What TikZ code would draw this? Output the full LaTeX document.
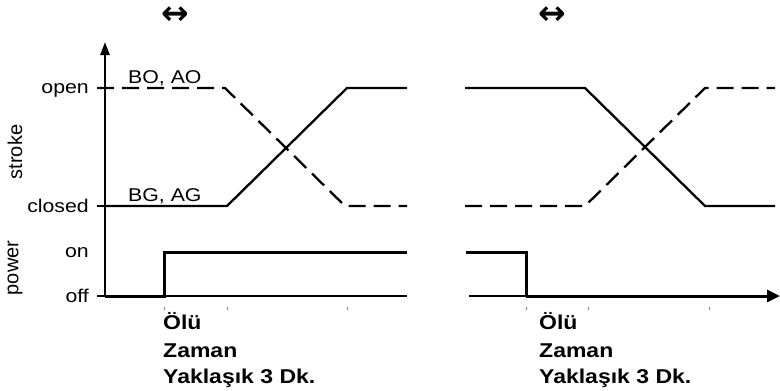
\documentclass[tikz,border=0pt]{standalone}
\usepackage{fontspec}
\setmainfont{Liberation Sans}[FakeStretch=1.15]
\newfontfamily\plainsans{Liberation Sans}
\newfontfamily\arrowfont{DejaVu Sans Bold}
\usetikzlibrary{arrows.meta}
\begin{document}
\begin{tikzpicture}[x=1pt,y=-1pt,
  lbl/.style={inner sep=0pt,font=\fontsize{18.5}{20}\selectfont},
  vlbl/.style={inner sep=0pt,rotate=90,font=\plainsans\fontsize{20}{22}\selectfont},
  note/.style={inner sep=0pt,anchor=base west,font=\fontsize{20}{24}\selectfont\bfseries},
  dbl/.style={inner sep=0pt,font=\arrowfont\fontsize{33}{34}\selectfont},
  curve/.style={line width=2.3pt,line join=miter},
  dcurve/.style={curve,dash pattern=on 17pt off 8pt},
  pwr/.style={line width=3pt,line join=miter},
  axisline/.style={line width=2.3pt},
  tickmark/.style={line width=0.9pt,gray},
]
\useasboundingbox (0,0) rectangle (780,391);
% key coordinates
\coordinate (ax0) at (105,296);
\coordinate (axtop) at (105,42);
\coordinate (tO) at (97,88);   \coordinate (aO) at (105,88);
\coordinate (tC) at (97,206);  \coordinate (aC) at (105,206);
\coordinate (tF) at (97,296);
% left stroke
\coordinate (L1) at (227,206); \coordinate (L2) at (347,88); \coordinate (L3) at (407,88);
\coordinate (D1) at (225,88);  \coordinate (D2) at (345,206); \coordinate (D3) at (407,206);
% right stroke
\coordinate (R0) at (465,88);  \coordinate (R1) at (585,88); \coordinate (R2) at (705,206); \coordinate (R3) at (775,206);
\coordinate (E0) at (465,206); \coordinate (E1) at (585,206); \coordinate (E2) at (705,88); \coordinate (E3) at (775,88);
% power
\coordinate (P1) at (164,296); \coordinate (P2) at (164,252); \coordinate (P3) at (407,252);
\coordinate (F3) at (407,296);
\coordinate (Q0) at (466,252); \coordinate (Q1) at (526,252); \coordinate (Q2) at (526,296);
\coordinate (G0) at (469,296); \coordinate (Gend) at (780,296);

% axis
\draw[axisline,-{Triangle[length=13pt,width=9pt]}] (ax0) -- (axtop);
\draw[axisline] (tO) -- (aO);
\draw[axisline] (tC) -- (aC);
\draw[axisline] (tF) -- (ax0);

% left panel
\draw[dcurve] (tO) -- (D1) -- (D2) -- (D3);
\draw[curve] (aC) -- (L1) -- (L2) -- (L3);
\draw[curve] (ax0) -- (F3);
\draw[pwr] (ax0) -- (P1) -- (P2) -- (P3);

% right panel
\draw[curve] (R0) -- (R1) -- (R2) -- (R3);
\draw[dcurve] (E0) -- (E1) -- (E2) -- (E3);
\draw[curve] (G0) -- (Q2);
\draw[pwr] (Q0) -- (Q1) -- (Q2);
\draw[pwr,-{Triangle[length=13pt,width=12pt]}] (Q2) -- (Gend);

% small ticks below
\foreach \x/\n in {164/a,227/b,347/c,526/d,588/e,709/f}{
  \coordinate (k\n1) at (\x,307); \coordinate (k\n2) at (\x,310);
  \draw[tickmark] (k\n1) -- (k\n2);
}

% labels
\node[lbl,anchor=base east] (lopen) at (89,93) {open};
\node[lbl,anchor=base east] (lclosed) at (89,212) {closed};
\node[lbl,anchor=base east] (lon) at (89,257) {on};
\node[lbl,anchor=base east] (loff) at (89,302) {off};
\node[lbl,anchor=base west] (lbo) at (128,83) {BO, AO};
\node[lbl,anchor=base west] (lbg) at (128,201) {BG, AG};
\node[vlbl] (lstroke) at (15,152) {stroke};
\node[vlbl] (lpower) at (15,268) {power};

\node[dbl] (arrL) at (175,16) {↔};
\node[dbl] (arrR) at (552,16) {↔};

\node[note] (n1a) at (163,329) {Ölü};
\node[note] (n1b) at (163,357) {Zaman};
\node[note] (n1c) at (163,383) {Yaklaşık 3 Dk.};
\node[note] (n2a) at (539,329) {Ölü};
\node[note] (n2b) at (539,357) {Zaman};
\node[note] (n2c) at (539,383) {Yaklaşık 3 Dk.};
\end{tikzpicture}
\end{document}
